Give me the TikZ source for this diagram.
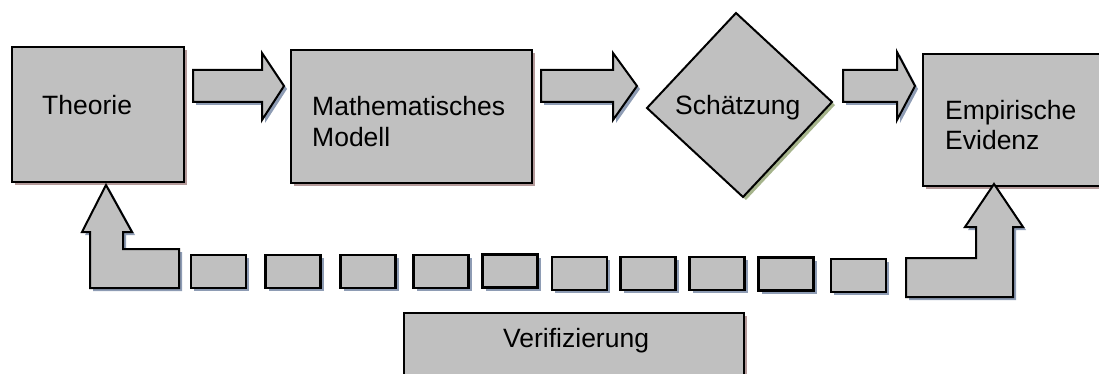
\documentclass[tikz,border=0pt]{standalone}
\usepackage{fontspec}
\setmainfont{Liberation Sans}
\usetikzlibrary{shadows}
\definecolor{boxgray}{HTML}{C0C0C0}
\definecolor{redshadow}{HTML}{B49A9A}
\definecolor{blueshadow}{HTML}{8E9CB4}
\definecolor{greenshadow}{HTML}{A6B48C}
\tikzset{
  blk/.style={draw=black, fill=boxgray, line width=2.2pt, inner sep=0pt, outer sep=0pt},
  bigbox/.style={blk, rectangle, drop shadow={shadow xshift=3pt, shadow yshift=-3pt, fill=redshadow, opacity=1}},
  smallbox/.style={blk, rectangle, line width=2.6pt, minimum width=55pt, minimum height=33pt, drop shadow={shadow xshift=3pt, shadow yshift=-3pt, fill=blueshadow, opacity=1}},
  arrowshape/.style={draw=black, fill=boxgray, line width=2pt, line join=miter},
  ashadow/.style={fill=blueshadow},
  lbl/.style={anchor=base west, inner sep=0pt, font=\fontsize{26.5}{31}\selectfont, align=left}
}
\begin{document}
\begin{tikzpicture}[x=1pt,y=-1pt]
\useasboundingbox (0,0) rectangle (1099,374);
% boxes
\node[bigbox, minimum width=172pt, minimum height=135pt] (theorie) at (98,114.5) {};
\node[bigbox, minimum width=241pt, minimum height=133pt] (modell) at (411.5,116.5) {};
\node[bigbox, minimum width=184pt, minimum height=132pt] (evidenz) at (1015,120) {};
\node[bigbox, minimum width=340pt, minimum height=80pt] (verif) at (574,353) {};
% diamond
\fill[greenshadow] (739,16) -- (835,105) -- (746,200) -- (650,111) -- cycle;
\draw[arrowshape] (736,13) coordinate (dtop) -- (832,102) coordinate (dright) -- (743,197) coordinate (dbottom) -- (647,108) coordinate (dleft) -- cycle;
% horizontal block arrows
\foreach \xa/\xb/\xc/\hy in {193/262/284/53, 541/613/637/53, 843/897/915/52}{
  \fill[ashadow] (\xa+3,73) -- (\xb+3,73) -- (\xb+3,\hy+3) -- (\xc+3,89) -- (\xb+3,123) -- (\xb+3,105) -- (\xa+3,105) -- cycle;
  \draw[arrowshape] (\xa,70) -- (\xb,70) -- (\xb,\hy) -- (\xc,86) -- (\xb,120) -- (\xb,102) -- (\xa,102) -- cycle;
}
% left L arrow
\fill[ashadow] (109,188) -- (135,235) -- (126,235) -- (126,252) -- (182,252) -- (182,291) -- (93,291) -- (93,235) -- (85,235) -- cycle;
\draw[arrowshape] (106,185) -- (132,232) -- (123,232) -- (123,249) -- (179,249) -- (179,288) -- (90,288) -- (90,232) -- (82,232) -- cycle;
% right L arrow
\fill[ashadow] (997,187) -- (1026,230) -- (1016,230) -- (1016,300) -- (909,300) -- (909,261) -- (979,261) -- (979,230) -- (968,230) -- cycle;
\draw[arrowshape] (994,184) -- (1023,227) -- (1013,227) -- (1013,297) -- (906,297) -- (906,258) -- (976,258) -- (976,227) -- (965,227) -- cycle;
% dashed small boxes
\node[smallbox] (s1) at (218.5,271.5) {};
\node[smallbox] (s2) at (293,271.5) {};
\node[smallbox] (s3) at (368,271.5) {};
\node[smallbox] (s4) at (441,271.5) {};
\node[smallbox] (s5) at (510,271) {};
\node[smallbox] (s6) at (579.5,273.5) {};
\node[smallbox] (s7) at (648,273.5) {};
\node[smallbox] (s8) at (717,273.5) {};
\node[smallbox] (s9) at (786,274) {};
\node[smallbox] (s10) at (858.5,275.5) {};
% labels
\node[lbl] (t1) at (42,115) {Theorie};
\node[lbl] (t2) at (312,147) {Mathematisches\\Modell};
\node[lbl] (t3) at (675,115) {Schätzung};
\node[lbl] (t4) at (945,150) {Empirische\\Evidenz};
\node[lbl] (t5) at (503,347) {Verifizierung};
\end{tikzpicture}
\end{document}
